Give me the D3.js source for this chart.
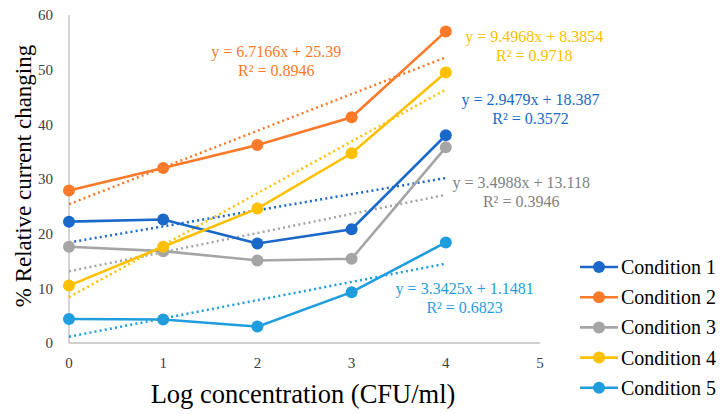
<!DOCTYPE html>
<html>
<head>
<meta charset="utf-8">
<script src="https://cdn.jsdelivr.net/npm/d3@7"></script>
<style>
  body { margin: 0; background: #fff; }
  svg { display: block; font-family: "Liberation Serif", "Times New Roman", serif; }
</style>
</head>
<body>
<div id="chart"></div>
<script>
// chart data
const xValues = [0, 1, 2, 3, 4];
const xTicks = [0, 1, 2, 3, 4, 5];
const yTicks = [0, 10, 20, 30, 40, 50, 60];

const seriesNames = ['Condition 1', 'Condition 2', 'Condition 3', 'Condition 4', 'Condition 5'];
const seriesColors = ['#1a68c8', '#fb7a2a', '#a5a5a5', '#ffc000', '#1f9ddd'];

const cond1 = [22.2, 22.6, 18.2, 20.8, 38.0];
const cond2 = [27.9, 32.0, 36.2, 41.3, 57.0];
const cond3 = [17.6, 16.8, 15.1, 15.4, 35.8];
const cond4 = [10.5, 17.6, 24.6, 34.7, 49.5];
const cond5 = [4.4, 4.3, 3.0, 9.3, 18.4];
const seriesValues = [cond1, cond2, cond3, cond4, cond5];

// trendline slope / intercept / r2 as printed on the chart
const trendSlopes = [2.9479, 6.7166, 3.4988, 9.4968, 3.3425];
const trendIntercepts = [18.387, 25.39, 13.118, 8.3854, 1.1481];
const trendR2 = ['0.3572', '0.8946', '0.3946', '0.9718', '0.6823'];
const trendEq = ['y = 2.9479x + 18.387', 'y = 6.7166x + 25.39', 'y = 3.4988x + 13.118',
                 'y = 9.4968x + 8.3854', 'y = 3.3425x + 1.1481'];
// label anchor (in data units) for each equation
const labelX = [4.9, 2.2, 4.8, 4.94, 4.2];
const labelY = [43.6, 52.4, 28.3, 55.0, 8.9];

const width = 722, height = 414;
const x = d3.scaleLinear().domain([0, 5]).range([69, 540]);
const y = d3.scaleLinear().domain([0, 60]).range([343, 15]);

const svg = d3.select('#chart').append('svg')
    .attr('width', width)
    .attr('height', height);

// axis lines
svg.append('line')
    .attr('x1', x(0)).attr('x2', x(0))
    .attr('y1', y(60)).attr('y2', y(0))
    .attr('stroke', '#bfbfbf').attr('stroke-width', 1.3);
svg.append('line')
    .attr('x1', x(0)).attr('x2', x(5))
    .attr('y1', y(0)).attr('y2', y(0))
    .attr('stroke', '#bfbfbf').attr('stroke-width', 1.3);

// tick labels
svg.selectAll('.ytick').data(yTicks).enter().append('text')
    .attr('class', 'ytick')
    .attr('x', x(0) - 16)
    .attr('y', d => y(d))
    .attr('dy', '0.35em')
    .attr('text-anchor', 'end')
    .attr('font-size', 15)
    .attr('fill', '#404040')
    .text(d => d);

svg.selectAll('.xtick').data(xTicks).enter().append('text')
    .attr('class', 'xtick')
    .attr('x', d => x(d))
    .attr('y', y(0) + 25)
    .attr('text-anchor', 'middle')
    .attr('font-size', 15)
    .attr('fill', '#404040')
    .text(d => d);

// axis titles
svg.append('text')
    .attr('x', 303)
    .attr('y', 403)
    .attr('text-anchor', 'middle')
    .attr('font-size', 26.5)
    .attr('fill', '#000')
    .text('Log concentration (CFU/ml)');

svg.append('text')
    .attr('transform', 'translate(31,' + 176 + ') rotate(-90)')
    .attr('text-anchor', 'middle')
    .attr('font-size', 23)
    .attr('fill', '#000')
    .text('% Relative current changing');

// trendlines (dotted)
const trendData = seriesNames.map((name, i) => ({
    color: seriesColors[i],
    pts: [0, 4].map(v => [v, trendSlopes[i] * v + trendIntercepts[i]])
}));

svg.selectAll('.trend').data(trendData).enter().append('line')
    .attr('class', 'trend')
    .attr('x1', d => x(d.pts[0][0])).attr('y1', d => y(d.pts[0][1]))
    .attr('x2', d => x(d.pts[1][0])).attr('y2', d => y(d.pts[1][1]))
    .attr('stroke', d => d.color)
    .attr('stroke-width', 2.5)
    .attr('stroke-dasharray', '2,3.2');

// series lines + markers
const line = d3.line()
    .x((d, i) => x(xValues[i]))
    .y(d => y(d));

seriesValues.forEach((vals, i) => {
    const g = svg.append('g');
    g.append('path')
        .datum(vals)
        .attr('d', line)
        .attr('fill', 'none')
        .attr('stroke', seriesColors[i])
        .attr('stroke-width', 2.6);
    g.selectAll('circle').data(vals).enter().append('circle')
        .attr('cx', (d, j) => x(xValues[j]))
        .attr('cy', d => y(d))
        .attr('r', 6)
        .attr('fill', seriesColors[i]);
});

// equation labels
seriesNames.forEach((name, i) => {
    const t = svg.append('text')
        .attr('text-anchor', 'middle')
        .attr('font-size', 16)
        .attr('fill', seriesColors[i] === '#a5a5a5' ? '#7f7f7f' : seriesColors[i]);
    t.append('tspan')
        .attr('x', x(labelX[i]))
        .attr('y', y(labelY[i]))
        .text(trendEq[i]);
    t.append('tspan')
        .attr('x', x(labelX[i]))
        .attr('dy', 19)
        .text('R² = ' + trendR2[i]);
});

// legend
const legend = svg.selectAll('.legend').data(seriesNames).enter().append('g')
    .attr('class', 'legend')
    .attr('transform', (d, i) => 'translate(580,' + (267 + i * 30.2) + ')');

legend.append('line')
    .attr('x1', 0).attr('x2', 38)
    .attr('stroke', (d, i) => seriesColors[i])
    .attr('stroke-width', 2.6);
legend.append('circle')
    .attr('cx', 19).attr('r', 6)
    .attr('fill', (d, i) => seriesColors[i]);
legend.append('text')
    .attr('x', 41)
    .attr('dy', '0.35em')
    .attr('font-size', 20)
    .attr('fill', '#000')
    .text(d => d);
</script>
</body>
</html>
